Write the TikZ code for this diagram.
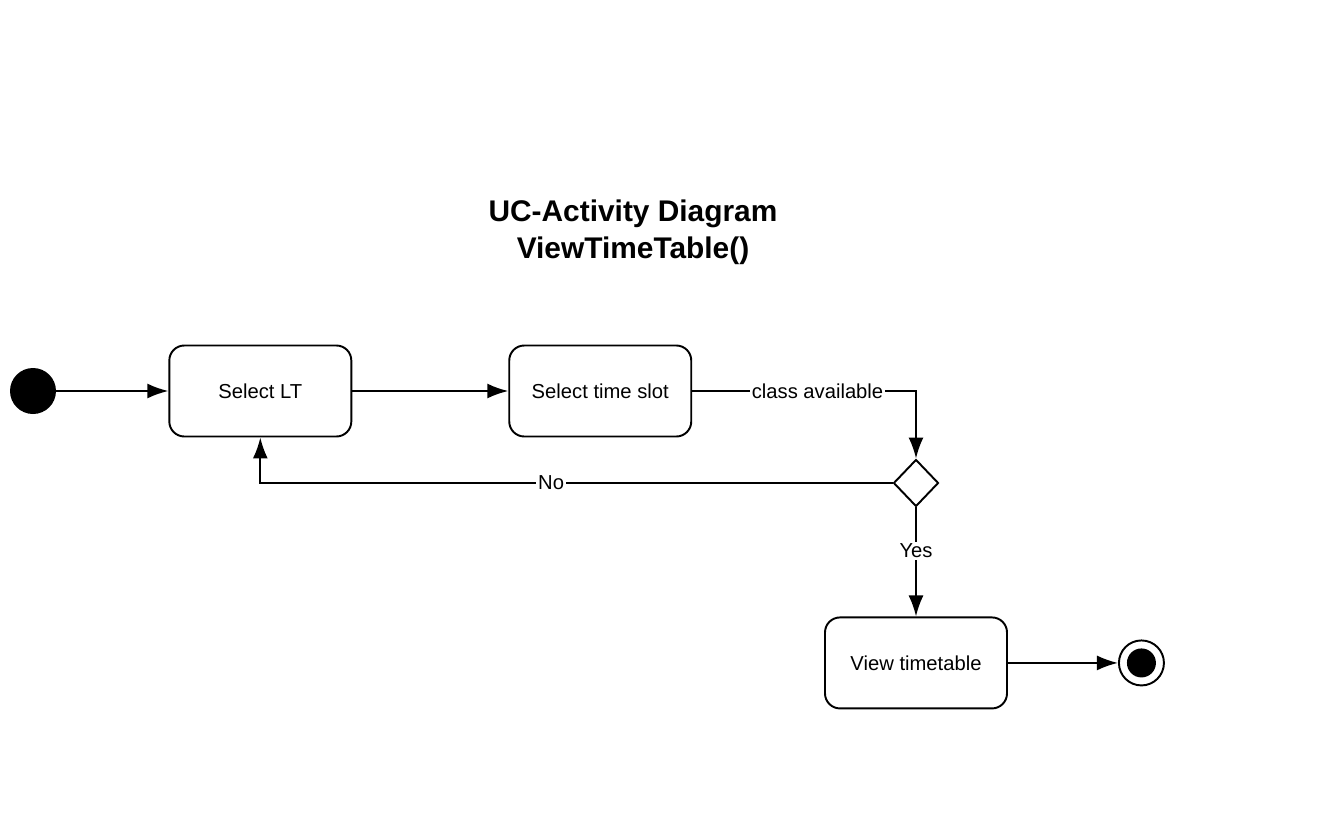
\documentclass[tikz,border=0pt]{standalone}
\usepackage{fontspec}
\setmainfont{Liberation Sans}
\usepackage{tikz}
\usetikzlibrary{arrows.meta,positioning,shapes.geometric}
\tikzset{
  activity/.style={rectangle, rounded corners=0.3cm, draw=black, line width=1.1pt, fill=white,
                   minimum width=3.64cm, minimum height=1.82cm, align=center,
                   font=\fontsize{11.5}{14}\selectfont},
  initial/.style={circle, fill=black, minimum size=0.92cm, inner sep=0pt},
  final/.style={circle, draw=black, line width=1.1pt, fill=white, minimum size=0.9cm, inner sep=0pt,
                path picture={\fill[black] (path picture bounding box.center) circle (0.29cm);}},
  decision/.style={diamond, draw=black, line width=1.1pt, fill=white,
                   minimum width=0.9cm, minimum height=0.94cm, inner sep=0pt},
  flow/.style={-{Latex[length=4.2mm, width=3mm]}, line width=1.1pt, black},
  edgelabel/.style={fill=white, inner sep=1pt, font=\fontsize{11.5}{14}\selectfont},
  title/.style={align=center, font=\bfseries\fontsize{17}{21}\selectfont},
}
\begin{document}
\begin{tikzpicture}
\useasboundingbox (0,0) rectangle (26.78,-16.54);
\node[title] (heading) at (12.66,-4.64) {UC-Activity Diagram\\ViewTimeTable()};

\node[initial] (start) at (0.66,-7.82) {};
\node[activity, right=2.24cm of start] (selectlt) {Select LT};
\node[activity, right=3.12cm of selectlt] (selectslot) {Select time slot};
\node[decision] (check) at (18.32,-9.66) {};
\node[activity, below=2.18cm of check] (viewtt) {View timetable};
\node[final, right=2.2cm of viewtt] (stop) {};

\draw[flow] (start) -- (selectlt);
\draw[flow] (selectlt) -- (selectslot);
\draw[flow] (selectslot) -| node[edgelabel, pos=0.28] {class available} (check);
\draw[flow] (check) -| node[edgelabel, pos=0.27] {No} (selectlt);
\draw[flow] (check) -- node[edgelabel, pos=0.4] {Yes} (viewtt);
\draw[flow] (viewtt) -- (stop);
\end{tikzpicture}
\end{document}
